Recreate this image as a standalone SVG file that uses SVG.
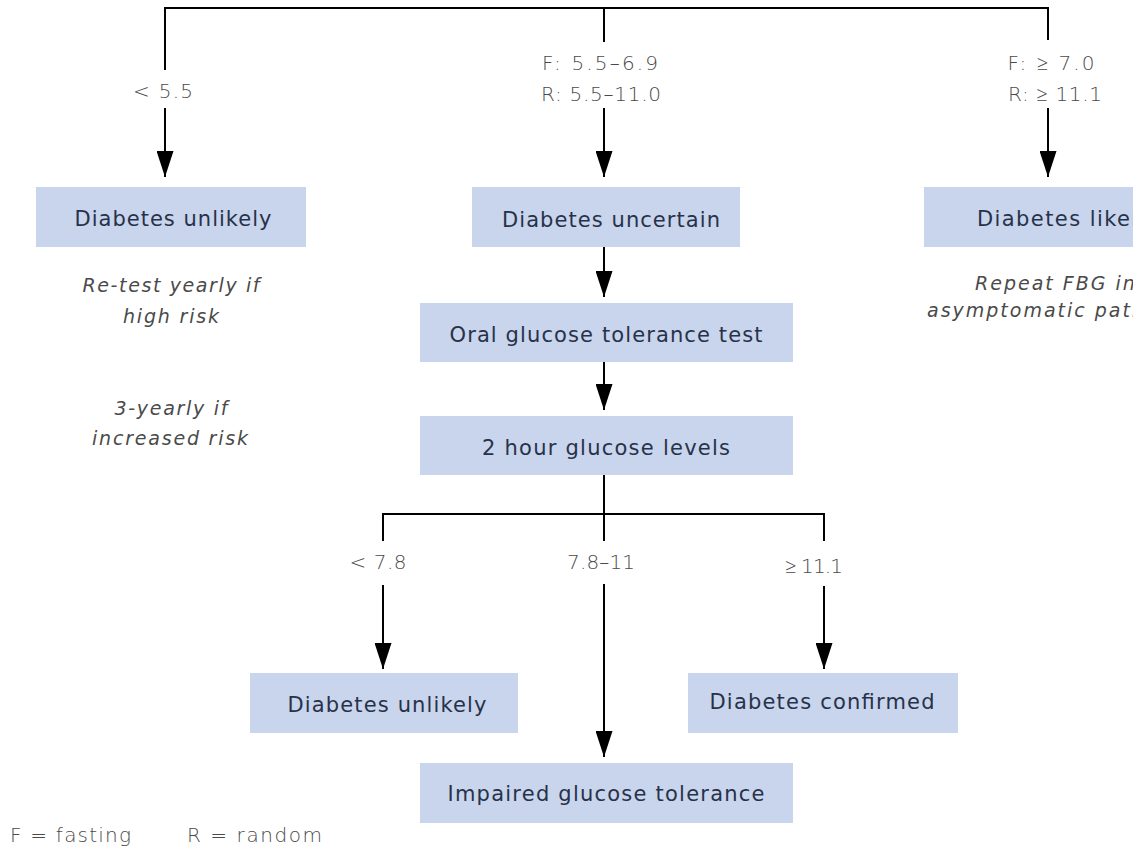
<svg xmlns="http://www.w3.org/2000/svg" width="1133" height="847" viewBox="0 0 1133 847">
  <style>
    .box { fill: #c9d5ec; }
    .btxt { font-family: "DejaVu Sans", "Open Sans", sans-serif; font-size: 21px; font-weight: 400; fill: #27324a; text-anchor: middle; }
    .lbl { font-family: "DejaVu Sans", "Open Sans", sans-serif; font-size: 20px; font-weight: 200; fill: #4a4a4a; text-anchor: middle; }
    .note { font-family: "DejaVu Sans", "Open Sans", sans-serif; font-size: 19px; font-weight: 200; font-style: italic; fill: #4a4a4a; text-anchor: middle; letter-spacing: 2px; }
    .leg { font-family: "DejaVu Sans", "Open Sans", sans-serif; font-size: 20px; font-weight: 200; fill: #4a4a4a; }
    .ln { stroke: #000; stroke-width: 2; fill: none; }
    .arr { stroke: #000; stroke-width: 2; fill: none; marker-end: url(#ah); }
  </style>
  <defs>
    <marker id="ah" markerUnits="userSpaceOnUse" markerWidth="26" markerHeight="17" viewBox="0 0 26 17" refX="26" refY="8.5" orient="auto">
      <path d="M0,0 L26,8.5 L0,17 z" fill="#000"/>
    </marker>
  </defs>
  <rect width="1133" height="847" fill="#fff"/>

  <!-- connectors -->
  <g id="connectors">
    <path class="ln" d="M165,70 V8 H1048 V40" stroke-width="3"/>
    <line class="ln" x1="604" y1="8" x2="604" y2="42"/>
    <line class="arr" x1="165" y1="108" x2="165" y2="177"/>
    <line class="arr" x1="604" y1="108" x2="604" y2="177"/>
    <line class="arr" x1="1048" y1="108" x2="1048" y2="177"/>
    <line class="arr" x1="604" y1="247" x2="604" y2="297"/>
    <line class="arr" x1="604" y1="362" x2="604" y2="410"/>
    <path class="ln" d="M383,541 V514 H824 V541"/>
    <line class="ln" x1="604" y1="475" x2="604" y2="541"/>
    <line class="arr" x1="383" y1="585" x2="383" y2="669"/>
    <line class="arr" x1="604" y1="584" x2="604" y2="757"/>
    <line class="arr" x1="824" y1="586" x2="824" y2="669"/>
  </g>

  <!-- branch labels -->
  <g id="labels">
    <text class="lbl" x="163" y="98" textLength="60" lengthAdjust="spacing">&lt; 5.5</text>
    <text class="lbl" x="600" y="70" textLength="116" lengthAdjust="spacing">F: 5.5–6.9</text>
    <text class="lbl" x="601" y="101" textLength="120" lengthAdjust="spacing">R: 5.5–11.0</text>
    <text class="lbl" x="1051" y="70" textLength="87" lengthAdjust="spacing">F: ≥ 7.0</text>
    <text class="lbl" x="1055" y="101" textLength="94" lengthAdjust="spacing">R:  ≥ 11.1</text>
    <text class="lbl" x="378" y="569" textLength="57" lengthAdjust="spacing">&lt; 7.8</text>
    <text class="lbl" x="601" y="569" textLength="68" lengthAdjust="spacing">7.8–11</text>
    <text class="lbl" x="814" y="573" textLength="58" lengthAdjust="spacing">≥ 11.1</text>
  </g>

  <g id="n-unlikely-1">
    <rect class="box" x="36" y="187" width="270" height="60"/>
    <text class="btxt" x="173" y="226" textLength="197" lengthAdjust="spacing">Diabetes unlikely</text>
  </g>
  <g id="n-uncertain">
    <rect class="box" x="472" y="187" width="268" height="60"/>
    <text class="btxt" x="611" y="227" textLength="218" lengthAdjust="spacing">Diabetes uncertain</text>
  </g>
  <g id="n-likely">
    <rect class="box" x="924" y="187" width="270" height="60"/>
    <text class="btxt" x="977" y="226" style="text-anchor:start" textLength="174" lengthAdjust="spacing">Diabetes likely</text>
  </g>
  <g id="n-ogtt">
    <rect class="box" x="420" y="303" width="373" height="59"/>
    <text class="btxt" x="606" y="342" textLength="313" lengthAdjust="spacing">Oral glucose tolerance test</text>
  </g>
  <g id="n-2hour">
    <rect class="box" x="420" y="416" width="373" height="59"/>
    <text class="btxt" x="606" y="455" textLength="248" lengthAdjust="spacing">2 hour glucose levels</text>
  </g>
  <g id="n-unlikely-2">
    <rect class="box" x="250" y="673" width="268" height="60"/>
    <text class="btxt" x="387" y="712" textLength="199" lengthAdjust="spacing">Diabetes unlikely</text>
  </g>
  <g id="n-confirmed">
    <rect class="box" x="688" y="673" width="270" height="60"/>
    <text class="btxt" x="822" y="709" textLength="225" lengthAdjust="spacing">Diabetes confirmed</text>
  </g>
  <g id="n-igt">
    <rect class="box" x="420" y="763" width="373" height="60"/>
    <text class="btxt" x="606" y="801" textLength="317" lengthAdjust="spacing">Impaired glucose tolerance</text>
  </g>

  <!-- notes -->
  <g id="notes">
    <text class="note" x="172" y="292" textLength="179" lengthAdjust="spacing">Re-test yearly if</text>
    <text class="note" x="172" y="323" textLength="98" lengthAdjust="spacing">high risk</text>
    <text class="note" x="172" y="415" textLength="115" lengthAdjust="spacing">3-yearly if</text>
    <text class="note" x="171" y="445" textLength="158" lengthAdjust="spacing">increased risk</text>
    <text class="note" x="975" y="290" style="text-anchor:start">Repeat FBG in</text>
    <text class="note" x="927" y="317" style="text-anchor:start">asymptomatic patients</text>
  </g>

  <g id="legend">
    <text class="leg" x="10" y="842" textLength="121" lengthAdjust="spacing">F = fasting</text>
    <text class="leg" x="187" y="842" textLength="135" lengthAdjust="spacing">R = random</text>
  </g>
</svg>
